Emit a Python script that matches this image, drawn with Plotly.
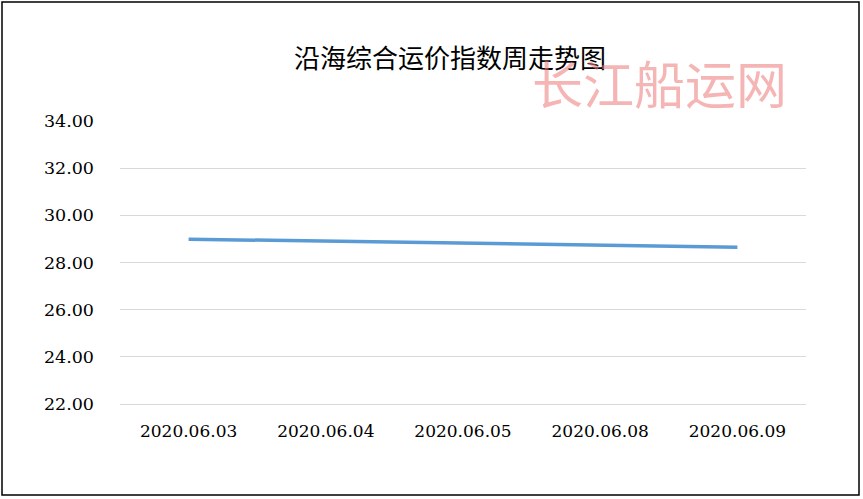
import plotly.graph_objects as go

# Data
dates = ["2020.06.03", "2020.06.04", "2020.06.05", "2020.06.08", "2020.06.09"]
index_values = [28.99, 28.91, 28.83, 28.74, 28.65]
y_ticks = [22, 24, 26, 28, 30, 32, 34]

W, H = 863, 499
plot_left, plot_right, plot_top, plot_bottom = 120, 806, 121, 404
pw = plot_right - plot_left
ph = plot_bottom - plot_top


def px_x(x):
    return (x - plot_left) / pw


def px_y(y):
    return (plot_bottom - y) / ph


fig = go.Figure()

fig.add_trace(go.Scatter(
    x=dates,
    y=index_values,
    mode="lines",
    line=dict(color="#5b9bd5", width=3.5),
    showlegend=False,
    hoverinfo="x+y"
))

# Title and watermark
fig.add_annotation(
    text="沿海综合运价指数周走势图",
    x=px_x(450), y=px_y(57), xref="paper", yref="paper",
    xanchor="center", yanchor="middle",
    showarrow=False,
    font=dict(family="Noto Sans CJK SC", size=26, color="#000000")
)
fig.add_annotation(
    text="长江船运网",
    x=px_x(659), y=px_y(82), xref="paper", yref="paper",
    xanchor="center", yanchor="middle",
    showarrow=False,
    font=dict(family="Noto Sans CJK SC", size=51, color="rgba(236,120,120,0.55)")
)

# Outer border of the picture
fig.add_shape(
    type="rect", xref="paper", yref="paper",
    x0=px_x(2), x1=px_x(859), y0=px_y(495), y1=px_y(2),
    line=dict(color="#000000", width=1.5)
)

fig.update_layout(
    width=W,
    height=H,
    margin=dict(l=plot_left, r=W - plot_right, t=plot_top, b=H - plot_bottom),
    paper_bgcolor="white",
    plot_bgcolor="white",
    xaxis=dict(
        type="category",
        range=[-0.5, 4.5],
        showgrid=False,
        showline=True,
        linecolor="#d9d9d9",
        linewidth=1,
        zeroline=False,
        ticks="",
        ticklabelstandoff=12,
        tickfont=dict(family="DejaVu Serif", size=17, color="#000000")
    ),
    yaxis=dict(
        range=[22, 34],
        tickvals=y_ticks,
        tickformat=".2f",
        showgrid=True,
        gridcolor="#d9d9d9",
        gridwidth=1,
        zeroline=False,
        showline=False,
        ticks="",
        ticklabelstandoff=25,
        tickfont=dict(family="DejaVu Serif", size=17.5, color="#000000")
    )
)

fig.write_html(
    "out.html",
    config={"displayModeBar": False},
    post_script="document.body.style.margin='0';"
)
